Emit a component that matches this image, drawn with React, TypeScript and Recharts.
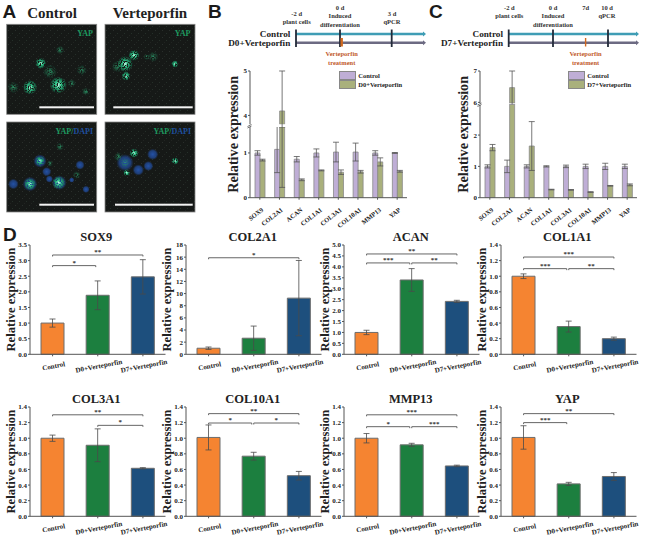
import React from 'react';
import { BarChart, Bar, XAxis, YAxis, ErrorBar, Cell, ReferenceLine, Legend } from 'recharts';

const SERIF = '"Liberation Serif", serif';
const SANS = '"Liberation Sans", sans-serif';

// ---- Panel D data ----
const groups = ['Control', 'D0+Verteporfin', 'D7+Verteporfin'];
const groupColors = ['#f58431', '#1c7f3f', '#1d4f7d'];

const sox9Values = [1.0, 1.89, 2.48];
const sox9Errors = [0.13, 0.46, 0.55];
const sox9Ticks = [0, 0.5, 1, 1.5, 2, 2.5, 3, 3.5];
const sox9Brackets = [{ from: 0, to: 1, y: 2.84, stars: '*' }, { from: 0, to: 2, y: 3.18, stars: '**' }];

const col2a1Values = [1.0, 2.65, 9.25];
const col2a1Errors = [0.2, 2.0, 6.2];
const col2a1Ticks = [0, 2, 4, 6, 8, 10, 12, 14, 16, 18];
const col2a1Brackets = [{ from: 0, to: 2, y: 15.9, stars: '*' }];

const acanValues = [1.0, 3.4, 2.42];
const acanErrors = [0.1, 0.52, 0.05];
const acanTicks = [0, 0.5, 1, 1.5, 2, 2.5, 3, 3.5, 4, 4.5, 5];
const acanBrackets = [
  { from: 0, to: 2, y: 4.59, stars: '**' },
  { from: 0, to: 1, y: 4.18, stars: '***' },
  { from: 1, to: 2, y: 4.18, stars: '**' },
];

const fractionTicks = [0, 0.2, 0.4, 0.6, 0.8, 1, 1.2, 1.4];

const col1a1Values = [1.0, 0.355, 0.2];
const col1a1Errors = [0.03, 0.07, 0.02];
const col1a1Brackets = [
  { from: 0, to: 2, y: 1.246, stars: '***' },
  { from: 0, to: 1, y: 1.097, stars: '***' },
  { from: 1, to: 2, y: 1.097, stars: '**' },
];

const col3a1Values = [1.0, 0.91, 0.615];
const col3a1Errors = [0.04, 0.21, 0.008];
const col3a1Brackets = [{ from: 0, to: 2, y: 1.3, stars: '**' }, { from: 1, to: 2, y: 1.165, stars: '*' }];

const col10a1Values = [1.01, 0.77, 0.52];
const col10a1Errors = [0.16, 0.05, 0.055];
const col10a1Brackets = [
  { from: 0, to: 2, y: 1.315, stars: '**' },
  { from: 0, to: 1, y: 1.195, stars: '*' },
  { from: 1, to: 2, y: 1.195, stars: '*' },
];

const mmp13Values = [1.0, 0.915, 0.645];
const mmp13Errors = [0.06, 0.02, 0.01];
const mmp13Brackets = [
  { from: 0, to: 2, y: 1.3, stars: '***' },
  { from: 0, to: 1, y: 1.148, stars: '*' },
  { from: 1, to: 2, y: 1.148, stars: '***' },
];

const yapValues = [1.01, 0.415, 0.51];
const yapErrors = [0.15, 0.02, 0.05];
const yapBrackets = [{ from: 0, to: 2, y: 1.315, stars: '**' }, { from: 0, to: 1, y: 1.2, stars: '***' }];

// ---- Panels B and C data ----
const genes = ['SOX9', 'COL2A1', 'ACAN', 'COL1A1', 'COL3A1', 'COL10A1', 'MMP13', 'YAP'];
const bControl = [1.0, 1.08, 0.86, 1.0, 1.02, 1.02, 1.0, 1.0];
const bControlErr = [0.05, 0.52, 0.06, 0.09, 0.22, 0.2, 0.05, 0.01];
const bTreated = [0.84, 4.1, 0.4, 0.61, 0.57, 0.58, 0.8, 0.59];
const bTreatedErr: any[] = [0.02, [3.87, 0.9], 0.02, 0.01, 0.05, 0.03, 0.09, 0.02];
const cControl = [1, 1, 1, 1, 1, 1, 1, 1];
const cControlErr = [0.05, 0.2, 0.05, 0.02, 0.04, 0.07, 0.1, 0.07];
const cTreated = [1.6, 6.47, 1.65, 0.26, 0.25, 0.18, 0.38, 0.41];
const cTreatedErr: any[] = [0.1, 0.53, 0.78, 0.01, 0.01, 0.01, 0.01, 0.03];

const purple = '#bfaed6';
const olive = '#a9b07c';

const tickStyle = { fontSize: 7, fontWeight: 700, fontFamily: SERIF, fill: '#222' };
const axisLine = { stroke: '#555', strokeWidth: 1 };

function BracketShape(props: any) {
  const { x1, x2, y1, stars, from, to } = props;
  if (x1 == null) return null;
  const left = x1;
  const right = x2 - (from === 0 && to === 1 ? 2 : 0);
  return (
    <g>
      <path d={`M${left} ${y1 + 1.5}V${y1}H${right}V${y1 + 1.5}`} fill="none" stroke="#666" strokeWidth={1} />
      <text x={(left + right) / 2} y={y1 - 1} textAnchor="middle" fontSize={7} fontWeight={700} fontFamily={SERIF} fill="#333">
        {stars}
      </text>
    </g>
  );
}

function SlantTick({ x, y, payload }: any) {
  return (
    <text
      x={x + 1.5}
      y={y + 10}
      textAnchor="middle"
      fontSize={7}
      fontWeight={700}
      fontFamily={SERIF}
      fill="#222"
      transform={`rotate(-11 ${x + 1.5} ${y + 10})`}
    >
      {payload.value}
    </text>
  );
}

function SteepTick({ x, y, payload }: any) {
  return (
    <text
      x={x + 4}
      y={y + 9}
      textAnchor="end"
      fontSize={6.5}
      fontWeight={700}
      fontFamily={SERIF}
      fill="#222"
      transform={`rotate(-38 ${x + 4} ${y + 9})`}
    >
      {payload.value}
    </text>
  );
}

function GeneChart({ title, plotLeft, plotTop, values, errors, ticks, brackets, decimals }: any) {
  const yAxisW = 38;
  const plotW = 135.5;
  const data = groups.map((name, i) => ({ name, value: values[i], err: errors[i] }));
  const max = ticks[ticks.length - 1];
  const chartTop = plotTop - 20;
  return (
    <div style={{ position: 'absolute', left: plotLeft - yAxisW, top: chartTop }}>
      <BarChart
        width={yAxisW + plotW + 6}
        height={165}
        data={data}
        margin={{ top: 20, right: 6, bottom: 5.7, left: 0 }}
        barCategoryGap={11}
      >
        <XAxis
          dataKey="name"
          height={30}
          interval={0}
          tick={<SlantTick />}
          tickSize={2}
          axisLine={axisLine}
          tickLine={axisLine}
        />
        <YAxis
          width={yAxisW}
          domain={[0, max]}
          ticks={ticks}
          interval={0}
          tick={tickStyle}
          tickSize={2}
          tickMargin={1}
          axisLine={axisLine}
          tickLine={axisLine}
          tickFormatter={(v: number) => v.toFixed(decimals)}
          label={{
            value: 'Relative expression',
            angle: -90,
            position: 'center',
            style: { fontSize: 12.6, fontWeight: 700, fontFamily: SERIF, fill: '#222', textAnchor: 'middle' },
          }}
        />
        <Bar dataKey="value" isAnimationActive={false} stroke="#6d6d6d" strokeWidth={1}>
          {data.map((d, i) => (
            <Cell key={d.name} fill={groupColors[i]} />
          ))}
          <ErrorBar dataKey="err" width={3} stroke="#4a4a4a" strokeWidth={0.8} isAnimationActive={false} />
        </Bar>
        {brackets.map((b: any, i: number) => (
          <ReferenceLine
            key={i}
            segment={[
              { x: groups[b.from], y: b.y },
              { x: groups[b.to], y: b.y },
            ]}
            shape={(p: any) => <BracketShape {...p} stars={b.stars} from={b.from} to={b.to} />}
          />
        ))}
      </BarChart>
      <div
        style={{
          position: 'absolute',
          left: yAxisW,
          width: plotW,
          top: 4,
          height: 16,
          fontFamily: SERIF,
          fontWeight: 700,
          fontSize: 12.5,
          lineHeight: '16px',
          textAlign: 'center',
          color: '#222',
          marginLeft: -1,
        }}
      >
        {title}
      </div>
    </div>
  );
}

function LegendContent({ payload }: any) {
  return (
    <div>
      {(payload || []).map((p: any) => (
        <div key={p.value} style={{ display: 'flex', alignItems: 'center', height: 9 }}>
          <span style={{ width: 15, height: 7, background: p.color, border: '1px solid #888', marginRight: 2, flex: 'none' }} />
          <span style={{ fontSize: 6.5, fontWeight: 700, fontFamily: SERIF, color: '#222', whiteSpace: 'nowrap', lineHeight: '9px' }}>
            {p.value}
          </span>
        </div>
      ))}
    </div>
  );
}

function BrokenChart({ control, controlErr, treated, treatedErr, treatedName, cfg }: any) {
  const { plotLeft, yAxisW, upperTop, upperBottom, lowerTop, upperDomain, lowerDomain, upperTicks, lowerTicks, legendLeft } = cfg;
  const plotW = 157;
  const zero = 197.7;
  const topPad = 8;
  const bottomPad = 5;
  const xAxisH = 36;
  const width = yAxisW + plotW + 5;
  const rows = genes.map((name, i) => ({
    name,
    control: control[i],
    controlErr: controlErr[i],
    treated: treated[i],
    treatedErr: treatedErr[i],
  }));
  const upperRows = rows.map((r) => ({
    name: r.name,
    control: r.control >= upperDomain[0] ? r.control : null,
    controlErr: r.control >= upperDomain[0] ? r.controlErr : null,
    treated: r.treated >= upperDomain[0] ? r.treated : null,
    treatedErr: r.treated >= upperDomain[0] ? r.treatedErr : null,
  }));
  const lowerRows = rows.map((r) => {
    let err = r.treatedErr;
    if (r.treated > lowerDomain[1]) {
      err = Array.isArray(err) ? [err[0], lowerDomain[1] - r.treated] : null;
    }
    return { ...r, treatedErr: err };
  });
  const series = (key: string, errKey: string, name: string, fill: string) => (
    <Bar dataKey={key} name={name} fill={fill} stroke="#8a8a8a" strokeWidth={0.8} barSize={5} isAnimationActive={false}>
      <ErrorBar dataKey={errKey} width={3} stroke="#555" strokeWidth={0.8} isAnimationActive={false} />
    </Bar>
  );
  return (
    <>
      <div style={{ position: 'absolute', left: plotLeft - yAxisW, top: upperTop - topPad }}>
        <BarChart
          width={width}
          height={upperBottom - upperTop + topPad + bottomPad}
          data={upperRows}
          margin={{ top: topPad, right: 5, bottom: bottomPad, left: 0 }}
          barGap={0}
        >
          <XAxis dataKey="name" hide />
          <YAxis
            width={yAxisW}
            domain={upperDomain}
            ticks={upperTicks}
            interval={0}
            allowDataOverflow
            tick={tickStyle}
            tickSize={2}
            tickMargin={1}
            axisLine={axisLine}
            tickLine={axisLine}
          />
          {series('control', 'controlErr', 'Control', purple)}
          {series('treated', 'treatedErr', treatedName, olive)}
          <Legend
            layout="vertical"
            align="center"
            verticalAlign="middle"
            content={<LegendContent />}
            wrapperStyle={{ left: legendLeft - (plotLeft - yAxisW), top: topPad, width: 90, height: 18 }}
          />
        </BarChart>
      </div>
      <div style={{ position: 'absolute', left: plotLeft - yAxisW, top: lowerTop }}>
        <BarChart
          width={width}
          height={zero - lowerTop + xAxisH}
          data={lowerRows}
          margin={{ top: 0, right: 5, bottom: 0, left: 0 }}
          barGap={0}
        >
          <XAxis
            dataKey="name"
            height={xAxisH}
            interval={0}
            tick={<SteepTick />}
            tickSize={2}
            axisLine={axisLine}
            tickLine={axisLine}
          />
          <YAxis
            width={yAxisW}
            domain={lowerDomain}
            ticks={lowerTicks}
            interval={0}
            allowDataOverflow
            tick={tickStyle}
            tickSize={2}
            tickMargin={1}
            axisLine={axisLine}
            tickLine={axisLine}
          />
          {series('control', 'controlErr', 'Control', purple)}
          {series('treated', 'treatedErr', treatedName, olive)}
        </BarChart>
      </div>
    </>
  );
}

// ---- Decorations ----
type Blob = [number, number, number, string];
const W = 'w';
const D = 'd';
const panelTL: Blob[] = [[122, 190, 17, W], [90, 262, 22, W], [175, 255, 26, W], [40, 262, 18, D], [150, 215, 22, D], [245, 210, 16, D], [215, 250, 13, D], [258, 275, 13, D], [180, 150, 13, D]];
const panelTR: Blob[] = [[375, 192, 24, W], [402, 166, 17, W], [378, 228, 14, W], [525, 192, 11, W], [352, 200, 18, D], [460, 170, 16, D], [440, 170, 10, D]];
const panelGL: Blob[] = [[90, 552, 18, W], [120, 483, 15, W], [176, 548, 20, W], [180, 440, 12, D], [230, 525, 12, D], [150, 490, 10, D]];
const panelGR: Blob[] = [[402, 459, 14, W], [380, 518, 11, W], [525, 483, 11, W], [375, 488, 16, D], [355, 470, 14, D]];
const panelBL: Blob[] = [[40, 552, 16, 'b'], [90, 552, 22, 'b'], [120, 483, 20, 'b'], [140, 515, 14, 'b'], [148, 537, 11, 'b'], [178, 548, 22, 'b'], [240, 495, 14, 'b'], [258, 568, 11, 'b'], [215, 540, 8, 'b']];
const panelBR: Blob[] = [[375, 488, 26, 'b'], [415, 510, 17, 'b'], [445, 498, 15, 'b'], [458, 463, 17, 'b']];

function Blobs({ blobs, grainy }: { blobs: Blob[]; grainy?: boolean }) {
  const fills: any = { b: 'url(#gBlue)', w: 'url(#gWhite)', d: 'url(#gDim)' };
  return (
    <g filter={grainy ? 'url(#speckle)' : undefined}>
      {blobs.map(([x, y, r, k], i) => (
        <circle key={i} cx={x / 3} cy={y / 3} r={r / 3} fill={fills[k]} />
      ))}
    </g>
  );
}

function Timeline({ cfg }: any) {
  const txt = { fontFamily: SERIF, fontWeight: 700 } as const;
  const { lineStart, lineEnd, ticks, orange, labels, labelRight, name } = cfg;
  return (
    <g>
      <line x1={lineStart} x2={lineEnd - 2} y1={34} y2={34} stroke="#3f9db5" strokeWidth={2.5} />
      <path d={`M${lineEnd - 3} 31.5L${lineEnd} 34L${lineEnd - 3} 36.5Z`} fill="#3f9db5" />
      <line x1={lineStart} x2={lineEnd - 2} y1={42.7} y2={42.7} stroke="#6c6a82" strokeWidth={2.5} />
      <path d={`M${lineEnd - 3} 40.2L${lineEnd} 42.7L${lineEnd - 3} 45.2Z`} fill="#6c6a82" />
      {ticks.map((t: number) => (
        <line key={t} x1={t} x2={t} y1={29.5} y2={47} stroke="#232b39" strokeWidth={1.8} />
      ))}
      <line x1={orange} x2={orange} y1={38} y2={46.5} stroke="#d2691e" strokeWidth={orange < 400 ? 2.4 : 1.4} />
      {labels.map(([s, x, y]: any) => (
        <text key={s} x={x} y={y + 2.3} textAnchor="middle" fontSize={6.5} fill="#333" {...txt}>
          {s}
        </text>
      ))}
      <text x={labelRight} y={37.2} textAnchor="end" fontSize={9.2} fill="#222" {...txt}>Control</text>
      <text x={labelRight} y={45.9} textAnchor="end" fontSize={9.2} fill="#222" {...txt}>{name}</text>
      <text x={orange} y={56.3} textAnchor="middle" fontSize={6.5} fill="#bf5a2b" {...txt}>Verteporfin</text>
      <text x={orange} y={65} textAnchor="middle" fontSize={6.5} fill="#bf5a2b" {...txt}>treatment</text>
    </g>
  );
}

const timelineB = {
  lineStart: 296, lineEnd: 426, ticks: [296, 340, 391.7], orange: 341.7, labelRight: 290.3, name: 'D0+Verteporfin',
  labels: [['-2 d', 296.7, 13.3], ['plant cells', 296.7, 21.7], ['0 d', 340, 7.3], ['Induced', 340, 16], ['differentiation', 340, 24.7], ['3 d', 392, 13.3], ['qPCR', 392, 21.7]],
};
const timelineC = {
  lineStart: 508.7, lineEnd: 639, ticks: [508.7, 553, 608], orange: 585.6, labelRight: 503, name: 'D7+Verteporfin',
  labels: [['-2 d', 509.3, 8], ['plant cells', 509.3, 16], ['0 d', 553, 8], ['Induced', 553, 16], ['differentiation', 553, 24.7], ['7d', 585.7, 8], ['10 d', 607, 8], ['qPCR', 607, 16]],
};

const chartsRow = [
  { title: 'SOX9', plotLeft: 29.5, plotTop: 245, values: sox9Values, errors: sox9Errors, ticks: sox9Ticks, brackets: sox9Brackets, decimals: 1 },
  { title: 'COL2A1', plotLeft: 186, plotTop: 245, values: col2a1Values, errors: col2a1Errors, ticks: col2a1Ticks, brackets: col2a1Brackets, decimals: 0 },
  { title: 'ACAN', plotLeft: 344, plotTop: 245, values: acanValues, errors: acanErrors, ticks: acanTicks, brackets: acanBrackets, decimals: 1 },
  { title: 'COL1A1', plotLeft: 500.5, plotTop: 245, values: col1a1Values, errors: col1a1Errors, ticks: fractionTicks, brackets: col1a1Brackets, decimals: 1 },
  { title: 'COL3A1', plotLeft: 29.5, plotTop: 406.7, values: col3a1Values, errors: col3a1Errors, ticks: fractionTicks, brackets: col3a1Brackets, decimals: 1 },
  { title: 'COL10A1', plotLeft: 186, plotTop: 406.7, values: col10a1Values, errors: col10a1Errors, ticks: fractionTicks, brackets: col10a1Brackets, decimals: 1 },
  { title: 'MMP13', plotLeft: 344, plotTop: 406.7, values: mmp13Values, errors: mmp13Errors, ticks: fractionTicks, brackets: mmp13Brackets, decimals: 1 },
  { title: 'YAP', plotLeft: 500.5, plotTop: 406.7, values: yapValues, errors: yapErrors, ticks: fractionTicks, brackets: yapBrackets, decimals: 1 },
];

const panels = [
  { x: 6.7, y: 24.3 },
  { x: 105, y: 24.3 },
  { x: 6.7, y: 122 },
  { x: 105, y: 122 },
];
const scaleBars = [[39.3, 94, 107.3], [113.3, 192.7, 107.3], [39.3, 94, 204.7], [115, 192.7, 204.7]];

export default function App() {
  const head = { fontFamily: SERIF, fontWeight: 700 } as const;
  return (
    <div style={{ position: 'absolute', left: 0, top: 0, width: 645, height: 541, background: '#fff', overflow: 'hidden' }}>
      <svg width={645} height={541} style={{ position: 'absolute', left: 0, top: 0 }}>
        <defs>
          <radialGradient id="gBlue"><stop offset="0%" stopColor="#2452a6" /><stop offset="65%" stopColor="#1f4488" stopOpacity={0.85} /><stop offset="100%" stopColor="#1c3a72" stopOpacity={0} /></radialGradient>
          <radialGradient id="gWhite"><stop offset="0%" stopColor="#c8f7e6" /><stop offset="35%" stopColor="#2fc489" /><stop offset="70%" stopColor="#1b8a5e" stopOpacity={0.8} /><stop offset="100%" stopColor="#1a7a55" stopOpacity={0} /></radialGradient>
          <radialGradient id="gDim"><stop offset="0%" stopColor="#2d9a6a" stopOpacity={0.9} /><stop offset="100%" stopColor="#1a6a48" stopOpacity={0} /></radialGradient>
          <filter id="speckle" x="0" y="0" width="100%" height="100%">
            <feTurbulence type="fractalNoise" baseFrequency="0.7" numOctaves="2" seed="4" result="n" />
            <feColorMatrix in="n" type="matrix" values="0 0 0 0 0  0 0 0 0 0  0 0 0 0 0  0 0 0 7 -2.6" result="m" />
            <feComposite in="SourceGraphic" in2="m" operator="in" />
          </filter>
          <pattern id="grain" width="7" height="7" patternUnits="userSpaceOnUse">
            <rect width="7" height="7" fill="#161917" />
            <rect x="1" y="2" width="1" height="1" fill="#2a2f2c" />
            <rect x="5" y="5" width="1" height="1" fill="#253029" />
            <rect x="3" y="0" width="1" height="1" fill="#212421" />
          </pattern>
        </defs>
        {panels.map((p, i) => (
          <rect key={i} x={p.x} y={p.y} width={90} height={90} fill="url(#grain)" stroke="#888" strokeWidth={0.8} />
        ))}
        <Blobs blobs={panelBL} />
        <Blobs blobs={panelBR} />
        <Blobs blobs={panelTL} grainy />
        <Blobs blobs={panelTR} grainy />
        <Blobs blobs={panelGL} grainy />
        <Blobs blobs={panelGR} grainy />
        {scaleBars.map(([a, b, y], i) => (
          <rect key={i} x={a} y={y - 1} width={b - a} height={2} fill="#f4f4f4" />
        ))}
        <text x={52} y={18} textAnchor="middle" fontSize={15} fill="#222" {...head}>Control</text>
        <text x={150} y={18} textAnchor="middle" fontSize={15} fill="#222" {...head}>Verteporfin</text>
        <text x={93} y={35.5} textAnchor="end" fontSize={8} fill="#1f9a60" {...head}>YAP</text>
        <text x={190.5} y={35.5} textAnchor="end" fontSize={8} fill="#1f9a60" {...head}>YAP</text>
        <text x={93} y={133.5} textAnchor="end" fontSize={8} {...head}>
          <tspan fill="#1f9a60">YAP/</tspan><tspan fill="#1f4f9e">DAPI</tspan>
        </text>
        <text x={191} y={133.5} textAnchor="end" fontSize={8} {...head}>
          <tspan fill="#1f9a60">YAP/</tspan><tspan fill="#1f4f9e">DAPI</tspan>
        </text>
        <g fontFamily={SANS} fontWeight={700} fontSize={19} fill="#1a1a1a">
          <text x={2.5} y={18}>A</text>
          <text x={208} y={18}>B</text>
          <text x={429} y={18}>C</text>
          <text x={3} y={241}>D</text>
        </g>
        <Timeline cfg={timelineB} />
        <Timeline cfg={timelineC} />
        <text transform="translate(237.5 134.3) rotate(-90)" textAnchor="middle" fontSize={14.2} fill="#222" {...head}>Relative expression</text>
        <text transform="translate(468 134.3) rotate(-90)" textAnchor="middle" fontSize={14.2} fill="#222" {...head}>Relative expression</text>
      </svg>

      <BrokenChart
        control={bControl}
        controlErr={bControlErr}
        treated={bTreated}
        treatedErr={bTreatedErr}
        treatedName="D0+Verteporfin"
        cfg={{
          plotLeft: 249.5, yAxisW: 12, upperTop: 70.7, upperBottom: 124, lowerTop: 127,
          upperDomain: [3.8, 5], lowerDomain: [0, 1.58], upperTicks: [4, 5], lowerTicks: [0, 1], legendLeft: 339.3,
        }}
      />
      <BrokenChart
        control={cControl}
        controlErr={cControlErr}
        treated={cTreated}
        treatedErr={cTreatedErr}
        treatedName="D7+Verteporfin"
        cfg={{
          plotLeft: 479.5, yAxisW: 12, upperTop: 70.7, upperBottom: 102.7, lowerTop: 105,
          upperDomain: [5.98, 7], lowerDomain: [0, 2.96], upperTicks: [6, 7], lowerTicks: [0, 1, 2], legendLeft: 568.3,
        }}
      />
      <svg width={645} height={541} style={{ position: 'absolute', left: 0, top: 0, pointerEvents: 'none' }}>
        <path d="M247.5 126.5L251.5 124.5M247.5 128L251.5 126" stroke="#555" strokeWidth={0.8} />
        <path d="M477.5 105L481.5 103M477.5 106.5L481.5 104.5" stroke="#555" strokeWidth={0.8} />
      </svg>

      {chartsRow.map((c) => (
        <GeneChart key={c.title} {...c} />
      ))}
    </div>
  );
}
